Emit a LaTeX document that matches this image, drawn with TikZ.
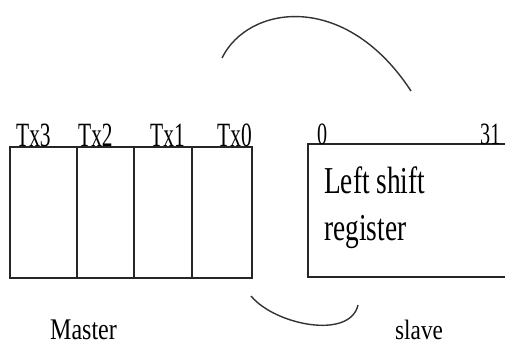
\documentclass[tikz,border=0pt]{standalone}
\usepackage{fontspec}
\setmainfont{Liberation Serif}
\usepackage{graphicx}
\tikzset{
  lbl/.style={inner sep=0pt, anchor=base west},
  boxline/.style={line width=1.6pt, draw=black!85},
  arcline/.style={line width=1.4pt, draw=black!80}
}
\newcommand{\sq}[3]{\fontsize{#1}{#1}\selectfont\scalebox{#2}[1]{#3}}
\begin{document}
\begin{tikzpicture}[x=1pt,y=-1pt]
\useasboundingbox (0,0) rectangle (505,345);
% master register
\draw[boxline] (10,147) rectangle (252,278);
\draw[boxline] (77,147) -- (77,278);
\draw[boxline] (134,147) -- (134,278);
\draw[boxline] (192,147) -- (192,278);
\node[lbl] (tx3) at (16,146) {\sq{34}{0.63}{Tx3}};
\node[lbl] (tx2) at (78,146) {\sq{34}{0.63}{Tx2}};
\node[lbl] (tx1) at (150,146) {\sq{34}{0.63}{Tx1}};
\node[lbl] (tx0) at (217,146) {\sq{34}{0.63}{Tx0}};
% slave register
\draw[boxline] (506,144) -- (308,144) -- (308,277) -- (506,277);
\node[lbl] (b0) at (317,144) {\sq{31}{0.65}{0}};
\node[lbl] (b31) at (480,144) {\sq{31}{0.65}{31}};
\node[lbl] (l1) at (324,193) {\sq{38}{0.72}{Left shift}};
\node[lbl] (l2) at (324,240) {\sq{38}{0.72}{register}};
% captions
\node[lbl] (m) at (50,339) {\sq{30}{0.8}{Master}};
\node[lbl] (s) at (395,339) {\sq{28}{0.83}{slave}};
% arcs
\coordinate (a1) at (222,58);
\coordinate (a2) at (411,91);
\coordinate (c1) at (251,296);
\coordinate (c2) at (358,305);
\draw[arcline] (a1) .. controls (248,5) and (345,-10) .. (a2);
\draw[arcline] (c1) .. controls (275,325) and (350,340) .. (c2);
\end{tikzpicture}
\end{document}
